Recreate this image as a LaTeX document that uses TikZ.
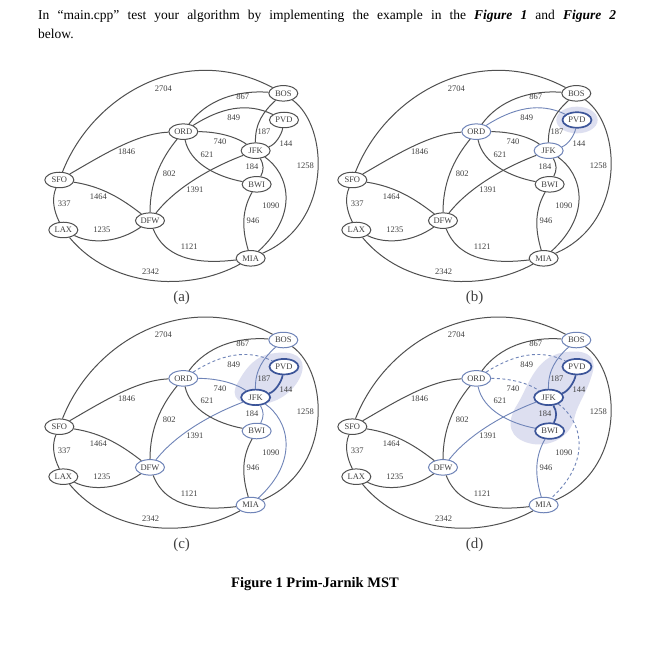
\documentclass[tikz,border=0pt]{standalone}
\usepackage{fontspec}
\usetikzlibrary{shapes.geometric}
\setmainfont{Liberation Serif}
\definecolor{ink}{HTML}{505050}
\definecolor{seenc}{HTML}{6F84B8}
\definecolor{treec}{HTML}{3C5599}
\definecolor{blob}{HTML}{DDDFF0}
\tikzset{
  route/.style={draw=ink,line width=1pt},
  seenedge/.style={draw=seenc,line width=.9pt},
  treeedge/.style={draw=treec,line width=1.7pt},
  dashedge/.style={draw=seenc,line width=.9pt,dash pattern=on 3pt off 2.5pt},
  apt/.style={ellipse,draw=ink,fill=white,line width=1pt,minimum width=29pt,minimum height=15.5pt,inner sep=0pt,font=\fontsize{8.5}{9}\selectfont,text=black!75},
  nseen/.style={draw=seenc,line width=1pt},
  ncur/.style={draw=treec,line width=1.7pt},
  wt/.style={font=\fontsize{8.5}{9}\selectfont,text=black!75,inner sep=0pt},
  captxt/.style={font=\fontsize{15}{16}\selectfont,text=black!75,inner sep=0pt},
  blobfill/.style={fill=blob,draw=none},
  nSFO/.style={},nLAX/.style={},nDFW/.style={},nMIA/.style={},nORD/.style={},nJFK/.style={},nBWI/.style={},nBOS/.style={},nPVD/.style={},
  SFOBOS/.style={},SFOLAX/.style={},SFOORD/.style={},SFODFW/.style={},LAXDFW/.style={},LAXMIA/.style={},DFWMIA/.style={},DFWORD/.style={},DFWJFK/.style={},ORDBOS/.style={},ORDPVD/.style={},ORDJFK/.style={},ORDBWI/.style={},JFKBOS/.style={},JFKPVD/.style={},JFKBWI/.style={},JFKMIA/.style={},BWIMIA/.style={},BOSMIA/.style={},
}
% #1 x offset, #2 y offset, #3 prefix, #4 overrides, #5 caption, #6 caption x, #7 blob drawing
\newcommand\airpanel[7]{%
\begin{scope}[shift={(#1pt,-#2pt)},x=.3333pt,y=-.3333pt,name prefix=#3-,#4]
  #7
  \node[apt,nSFO] (SFO) at (88,330) {SFO};
  \node[apt,nLAX] (LAX) at (100,480) {LAX};
  \node[apt,nDFW] (DFW) at (360,452) {DFW};
  \node[apt,nMIA] (MIA) at (662,565) {MIA};
  \node[apt,nORD] (ORD) at (460,185) {ORD};
  \node[apt,nJFK] (JFK) at (677,242) {JFK};
  \node[apt,nBWI] (BWI) at (680,343) {BWI};
  \node[apt,nBOS] (BOS) at (760,70) {BOS};
  \node[apt,nPVD] (PVD) at (762,150) {PVD};
  \draw[route,SFOBOS] (SFO) .. controls (190,70) and (470,-85) .. (BOS);
  \draw[route,SFOLAX] (SFO) .. controls (65,385) and (70,420) .. (LAX);
  \draw[route,SFOORD] (SFO) .. controls (210,260) and (320,190) .. (ORD);
  \draw[route,SFODFW] (SFO) .. controls (220,350) and (280,390) .. (DFW);
  \draw[route,LAXDFW] (LAX) .. controls (190,525) and (270,515) .. (DFW);
  \draw[route,LAXMIA] (LAX) .. controls (240,650) and (470,670) .. (MIA);
  \draw[route,DFWMIA] (DFW) .. controls (410,580) and (530,580) .. (MIA);
  \draw[route,DFWORD] (DFW) .. controls (360,340) and (390,270) .. (ORD);
  \draw[route,DFWJFK] (DFW) .. controls (440,350) and (550,290) .. (JFK);
  \draw[route,ORDBOS] (ORD) .. controls (530,90) and (620,60) .. (BOS);
  \draw[route,ORDPVD] (ORD) .. controls (570,115) and (650,95) .. (PVD);
  \draw[route,ORDJFK] (ORD) .. controls (550,185) and (610,195) .. (JFK);
  \draw[route,ORDBWI] (ORD) .. controls (480,280) and (560,320) .. (BWI);
  \draw[route,JFKBOS] (JFK) .. controls (675,160) and (700,125) .. (BOS);
  \draw[route,JFKPVD] (JFK) .. controls (735,225) and (755,195) .. (PVD);
  \draw[route,JFKBWI] (JFK) .. controls (702,285) and (702,300) .. (BWI);
  \draw[route,JFKMIA] (JFK) .. controls (775,310) and (810,430) .. (MIA);
  \draw[route,BWIMIA] (BWI) .. controls (630,430) and (640,490) .. (MIA);
  \draw[route,BOSMIA] (BOS) .. controls (898,170) and (908,460) .. (MIA);
  \node[wt] (w1) at (400,55) {2704};
  \node[wt] (w2) at (638,80) {867};
  \node[wt] (w3) at (611,144) {849};
  \node[wt] (w4) at (702,186) {187};
  \node[wt] (w5) at (768,220) {144};
  \node[wt] (w6) at (570,216) {740};
  \node[wt] (w7) at (531,253) {621};
  \node[wt] (w8) at (290,246) {1846};
  \node[wt] (w9) at (666,291) {184};
  \node[wt] (w10) at (826,286) {1258};
  \node[wt] (w11) at (418,310) {802};
  \node[wt] (w12) at (495,358) {1391};
  \node[wt] (w13) at (205,381) {1464};
  \node[wt] (w14) at (103,401) {337};
  \node[wt] (w15) at (723,407) {1090};
  \node[wt] (w16) at (669,453) {946};
  \node[wt] (w17) at (216,480) {1235};
  \node[wt] (w18) at (478,531) {1121};
  \node[wt] (w19) at (362,605) {2342};
  \node[captxt] (caption) at (#6,684) {#5};
\end{scope}}
\begin{document}
\begin{tikzpicture}[x=1pt,y=-1pt]
\useasboundingbox[fill=white] (0,0) rectangle (672,648);
\node[anchor=north west,inner sep=0pt,text width=578pt,align=justify,font=\fontsize{13.5}{19}\selectfont] (intro) at (38,9.5)
 {In “main.cpp” test your algorithm by implementing the example in the \textbf{\textit{Figure 1}} and \textbf{\textit{Figure 2}}\linebreak below.};
\airpanel{30}{70}{a}{}{(a)}{455}{}
\airpanel{323}{70}{b}{nPVD/.style={ncur},nORD/.style={nseen},nJFK/.style={nseen},ORDPVD/.style={seenedge},JFKPVD/.style={seenedge}}{(b)}{455}{%
  \fill[blobfill] (762,150) ellipse (62 and 40);}
\airpanel{30}{316.7}{c}{nPVD/.style={ncur},nJFK/.style={ncur},nORD/.style={nseen},nBOS/.style={nseen},nDFW/.style={nseen},nBWI/.style={nseen},nMIA/.style={nseen},
  ORDPVD/.style={dashedge},JFKPVD/.style={treeedge},ORDJFK/.style={seenedge},DFWJFK/.style={seenedge},JFKBOS/.style={seenedge},JFKBWI/.style={seenedge},JFKMIA/.style={seenedge}}{(c)}{455}{%
  \fill[blobfill] (730,110) .. controls (790,100) and (830,120) .. (815,170) .. controls (800,215) and (750,260) .. (690,262) .. controls (630,265) and (595,245) .. (625,195) .. controls (650,150) and (680,115) .. (730,110) -- cycle;}
\airpanel{323}{316.7}{d}{nPVD/.style={ncur},nJFK/.style={ncur},nBWI/.style={ncur},nORD/.style={nseen},nBOS/.style={nseen},nDFW/.style={nseen},nMIA/.style={nseen},
  ORDPVD/.style={dashedge},ORDJFK/.style={dashedge},JFKMIA/.style={dashedge},JFKPVD/.style={treeedge},JFKBWI/.style={treeedge},ORDBWI/.style={seenedge},DFWJFK/.style={seenedge},JFKBOS/.style={seenedge},BWIMIA/.style={seenedge}}{(d)}{455}{%
  \fill[blobfill] (740,105) .. controls (800,100) and (825,125) .. (805,180) .. controls (790,230) and (765,260) .. (755,300) .. controls (745,360) and (680,395) .. (620,380) .. controls (560,365) and (545,320) .. (585,260) .. controls (620,200) and (640,110) .. (740,105) -- cycle;}
\node[font=\bfseries\fontsize{14.5}{15}\selectfont,inner sep=0pt] (figcap) at (315,584) {Figure 1 Prim-Jarnik MST};
\end{tikzpicture}
\end{document}
